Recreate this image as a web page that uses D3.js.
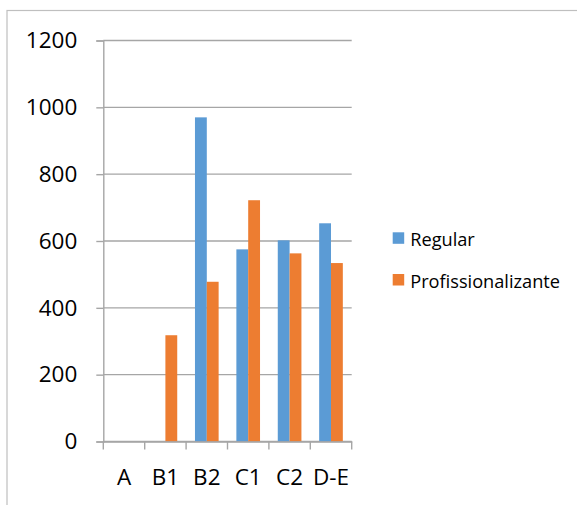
<!DOCTYPE html>
<html>
<head>
<meta charset="utf-8">
<script src="https://cdn.jsdelivr.net/npm/d3@7"></script>
<style>
  html, body { margin: 0; padding: 0; background: #fff; }
  svg { display: block; }
  text { font-family: "Open Sans", "Liberation Sans", sans-serif; fill: #000; }
</style>
</head>
<body>
<svg id="chart" width="577" height="505"></svg>
<script>
// Data
const categories = ["A", "B1", "B2", "C1", "C2", "D-E"];
const seriesNames = ["Regular", "Profissionalizante"];
const regular = [0, 0, 970, 575, 602, 653];
const profissionalizante = [0, 318, 478, 722, 563, 534];
const yTicks = [0, 200, 400, 600, 800, 1000, 1200];
const colors = ["#5B9BD5", "#ED7D31"];

const seriesValues = [regular, profissionalizante];
const rows = categories.map((c, i) => ({
  cat: c,
  vals: seriesNames.map((s, j) => ({ series: s, idx: j, value: seriesValues[j][i] }))
}));

const svg = d3.select("#chart");

// Chart frame
svg.append("rect")
  .attr("x", 7).attr("y", 10.5)
  .attr("width", 600).attr("height", 600)
  .attr("fill", "none").attr("stroke", "#BFBFBF").attr("stroke-width", 1.2);

const plot = { left: 103.3, right: 351.7, top: 40.5, bottom: 441.5 };

const x = d3.scaleBand().domain(categories).range([plot.left, plot.right]).paddingInner(0).paddingOuter(0);
const xInner = d3.scaleBand().domain(seriesNames).range([0, x.bandwidth()]).paddingInner(0).paddingOuter(0.75);
const y = d3.scaleLinear().domain([0, 1200]).range([plot.bottom, plot.top]);

const gridColor = "#A6A6A6";

// Horizontal gridlines
svg.append("g")
  .selectAll("line")
  .data(yTicks)
  .join("line")
  .attr("x1", plot.left).attr("x2", plot.right)
  .attr("y1", d => y(d)).attr("y2", d => y(d))
  .attr("stroke", gridColor).attr("stroke-width", 1.4);

// Bars
svg.append("g")
  .selectAll("g")
  .data(rows)
  .join("g")
  .attr("transform", d => `translate(${x(d.cat)},0)`)
  .selectAll("rect")
  .data(d => d.vals)
  .join("rect")
  .attr("x", d => xInner(d.series))
  .attr("width", xInner.bandwidth())
  .attr("y", d => y(d.value))
  .attr("height", d => y(0) - y(d.value))
  .attr("fill", d => colors[d.idx]);

// Y axis
const yAxis = d3.axisLeft(y).tickValues(yTicks).tickSize(7).tickPadding(19).tickFormat(d3.format("d"));
const gy = svg.append("g").attr("transform", `translate(${plot.left},0)`).call(yAxis);
gy.select(".domain").attr("stroke", gridColor).attr("stroke-width", 1.4);
gy.selectAll(".tick line").attr("stroke", gridColor).attr("stroke-width", 1.4);
gy.selectAll(".tick text").attr("font-size", 22.5).attr("font-family", "Open Sans").attr("fill", "#000");

// X axis
const xAxis = d3.axisBottom(x).tickSize(0).tickPadding(28);
const gx = svg.append("g").attr("transform", `translate(0,${plot.bottom})`).call(xAxis);
gx.select(".domain").attr("stroke", gridColor).attr("stroke-width", 1.4);
gx.selectAll(".tick text").attr("font-size", 22.5).attr("font-family", "Open Sans").attr("fill", "#000");

// Category boundary tick marks
const boundaries = d3.range(categories.length + 1).map(i => plot.left + i * x.step());
gx.selectAll(".bound")
  .data(boundaries)
  .join("line")
  .attr("class", "bound")
  .attr("x1", d => d).attr("x2", d => d)
  .attr("y1", 0).attr("y2", 8)
  .attr("stroke", gridColor).attr("stroke-width", 1.4);

// Legend
const legend = svg.append("g").attr("transform", "translate(392.7,232.3)");
const li = legend.selectAll("g")
  .data(seriesNames)
  .join("g")
  .attr("transform", (d, i) => `translate(0,${i * 41.7})`);
li.append("rect").attr("width", 11.5).attr("height", 11.5).attr("fill", (d, i) => colors[i]);
li.append("text").attr("x", 17.5).attr("y", 13.7)
  .attr("font-size", 18.2)
  .text(d => d);
</script>
</body>
</html>
